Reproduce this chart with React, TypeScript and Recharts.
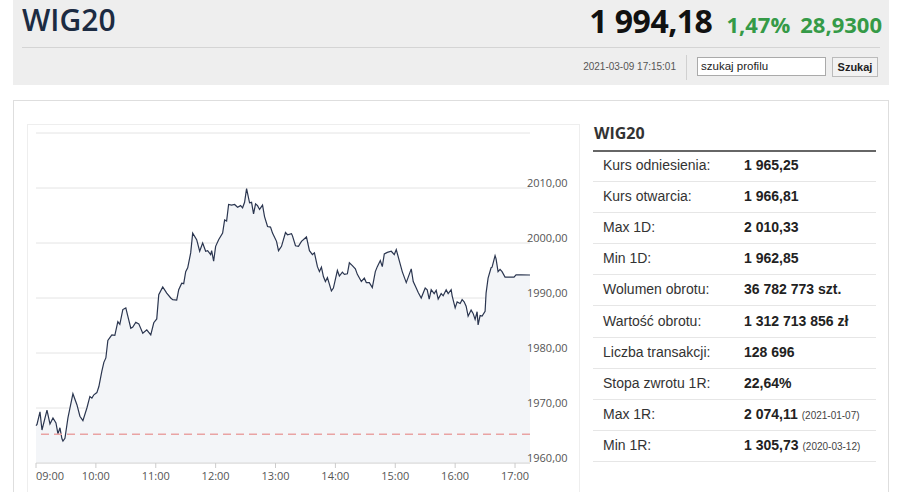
import React from "react";
import { Area, CartesianGrid, ComposedChart, ReferenceLine, XAxis, YAxis } from "recharts";

// minutes after 09:00 and index value at that moment
const MINUTES = [
  0, 1, 4, 6, 11, 14, 17, 20, 22, 24, 26, 27, 29, 32, 37, 41, 44, 47, 51, 54, 56, 58, 61, 63, 66, 68, 70, 72, 74, 76, 79,
  82, 84, 87, 90, 92, 95, 97, 100, 103, 107, 111, 115, 118, 121, 123, 127, 131, 135, 137, 141, 143, 146, 148, 150, 152,
  155, 157, 161, 164, 167, 170, 172, 175, 176, 178, 180, 183, 187, 189, 191, 193, 196, 199, 202, 205, 207, 209, 211, 214,
  216, 218, 220, 222, 224, 227, 229, 232, 235, 237, 241, 243, 246, 250, 252, 256, 257, 260, 263, 266, 271, 274, 277, 279,
  282, 284, 286, 288, 290, 292, 296, 298, 301, 302, 304, 307, 309, 312, 314, 317, 320, 322, 326, 329, 331, 334, 337, 340,
  342, 345, 347, 349, 352, 356, 359, 361, 364, 367, 371, 373, 376, 378, 381, 383, 386, 388, 390, 392, 394, 396, 399, 401,
  403, 406, 408, 411, 413, 416, 417, 420, 422, 425, 427, 429, 431, 433, 436, 438, 440, 442, 443, 445, 447, 450, 451, 453,
  456, 457, 460, 461, 463, 465, 467, 470, 474, 479, 481, 486, 495,
];
const VALUES = [
  1966.8, 1967.0, 1969.3, 1966.0, 1969.6, 1967.1, 1968.2, 1967.3, 1965.3, 1966.4, 1964.4, 1964.0, 1964.5, 1968.2, 1972.6,
  1970.6, 1968.5, 1967.7, 1970.0, 1972.1, 1971.8, 1972.4, 1972.8, 1973.9, 1976.7, 1978.3, 1979.1, 1982.3, 1982.8, 1983.3,
  1983.2, 1985.7, 1985.2, 1987.9, 1988.2, 1986.7, 1984.5, 1984.7, 1985.6, 1985.3, 1983.6, 1984.2, 1983.3, 1985.5, 1986.2,
  1990.6, 1992.0, 1990.9, 1990.0, 1989.7, 1989.6, 1991.5, 1992.7, 1992.6, 1994.8, 1995.5, 1998.2, 2001.8, 2000.6, 1998.5,
  2000.0, 1998.5, 1998.6, 1997.9, 1998.6, 1996.7, 1999.4, 2000.6, 2001.8, 2004.2, 2004.0, 2007.0, 2006.9, 2007.0, 2006.5,
  2006.8, 2006.4, 2007.4, 2009.9, 2007.3, 2007.4, 2005.3, 2007.1, 2006.8, 2006.1, 2006.9, 2004.8, 2003.0, 2002.9, 2001.8,
  2000.3, 1998.6, 1999.4, 2001.9, 2001.5, 2001.7, 2001.3, 1999.5, 1999.4, 2000.3, 2001.1, 1998.6, 1997.9, 1998.2, 1995.7,
  1994.8, 1995.6, 1993.9, 1993.0, 1993.7, 1991.3, 1991.8, 1994.2, 1995.0, 1994.0, 1994.7, 1994.3, 1994.4, 1996.4, 1995.9,
  1995.3, 1994.3, 1993.0, 1993.6, 1992.8, 1992.8, 1991.9, 1994.8, 1995.7, 1996.8, 1995.7, 1998.0, 1998.3, 1998.5, 1997.9,
  1998.8, 1996.8, 1994.8, 1992.8, 1993.8, 1995.3, 1993.0, 1991.8, 1991.0, 1990.0, 1990.9, 1991.8, 1991.5, 1989.8, 1991.5,
  1990.8, 1991.4, 1989.8, 1990.8, 1990.4, 1991.5, 1990.8, 1991.5, 1990.4, 1988.2, 1989.3, 1989.0, 1989.7, 1989.3, 1988.5,
  1986.7, 1987.8, 1987.2, 1986.1, 1987.5, 1985.1, 1986.8, 1986.7, 1987.6, 1990.9, 1993.6, 1995.5, 1995.6, 1997.7, 1997.1,
  1994.8, 1995.2, 1994.8, 1993.8, 1993.8, 1993.8, 1994.2, 1994.2, 1994.18,
];

const TIME_TICKS = [0, 60, 120, 180, 240, 300, 360, 420, 480];
const PRICE_TICKS = [1960, 1970, 1980, 1990, 2000, 2010, 2020];
const REFERENCE_PRICE = 1965.25;

const STAT_LABELS = [
  "Kurs odniesienia:",
  "Kurs otwarcia:",
  "Max 1D:",
  "Min 1D:",
  "Wolumen obrotu:",
  "Wartość obrotu:",
  "Liczba transakcji:",
  "Stopa zwrotu 1R:",
  "Max 1R:",
  "Min 1R:",
];
const STAT_VALUES = [
  "1 965,25",
  "1 966,81",
  "2 010,33",
  "1 962,85",
  "36 782 773 szt.",
  "1 312 713 856 zł",
  "128 696",
  "22,64%",
  "2 074,11",
  "1 305,73",
];
const STAT_DATES = ["", "", "", "", "", "", "", "", "(2021-01-07)", "(2020-03-12)"];

const data = MINUTES.map((t, i) => ({ t, v: VALUES[i] }));

const SANS = "'Open Sans', 'DejaVu Sans', sans-serif";
const ARIAL = "'Liberation Sans', Arial, sans-serif";

function TimeTick(props: any) {
  const { x, y, payload } = props;
  const m = payload.value as number;
  const label = `${String(9 + Math.floor(m / 60)).padStart(2, "0")}:${String(m % 60).padStart(2, "0")}`;
  return (
    <text x={x} y={y} dy={9} textAnchor={m === 0 ? "start" : "middle"} fill="#555" fontSize={11} fontFamily={SANS}>
      {label}
    </text>
  );
}

function PriceTick(props: any) {
  const { x, y, payload } = props;
  if (payload.value === 2020) return <g />;
  return (
    <text x={x - 3} y={y - 1.5} textAnchor="start" fill="#555" fontSize={11} fontFamily={SANS}>
      {(payload.value as number).toFixed(2).replace(".", ",")}
    </text>
  );
}

export default function App() {
  return (
    <div style={{ position: "fixed", left: 0, top: 0, width: 909, height: 492, overflow: "hidden", background: "#fff" }}>
      {/* header */}
      <div style={{ position: "absolute", left: 13, top: 0, width: 876, height: 85, background: "#eeeeee" }} />
      <div
        style={{
          position: "absolute",
          left: 22,
          top: 0,
          fontFamily: SANS,
          fontSize: 30,
          fontWeight: 600,
          color: "#1c2b42",
          lineHeight: "40px",
        }}
      >
        WIG20
      </div>
      <div
        style={{
          position: "absolute",
          right: 909 - 882,
          top: 0,
          height: 42,
          display: "flex",
          alignItems: "baseline",
          fontFamily: SANS,
          fontWeight: 700,
          lineHeight: "42px",
          whiteSpace: "nowrap",
        }}
      >
        <span style={{ fontSize: 32, color: "#111", letterSpacing: -0.5 }}>1&nbsp;994,18</span>
        <span style={{ fontSize: 22, color: "#359a47", marginLeft: 14 }}>1,47%</span>
        <span style={{ fontSize: 22, color: "#359a47", marginLeft: 10 }}>28,9300</span>
      </div>
      <div style={{ position: "absolute", left: 22, top: 47, width: 858, height: 1, background: "#d4d4d4" }} />
      <div style={{ position: "absolute", right: 909 - 676, top: 61, fontFamily: ARIAL, fontSize: 10, color: "#555" }}>
        2021-03-09 17:15:01
      </div>
      <div style={{ position: "absolute", left: 686, top: 55, width: 1, height: 25, background: "#d0d0d0" }} />
      <div
        style={{
          position: "absolute",
          left: 697,
          top: 57,
          width: 129,
          height: 19,
          border: "1px solid #aaa",
          background: "#fff",
          fontFamily: ARIAL,
          fontSize: 11.5,
          lineHeight: "17px",
          paddingLeft: 3,
          boxSizing: "border-box",
          color: "#222",
        }}
      >
        szukaj profilu
      </div>
      <div
        style={{
          position: "absolute",
          left: 832,
          top: 57,
          width: 46,
          height: 20,
          border: "1px solid #bbb",
          background: "#f2f2f2",
          boxSizing: "border-box",
          fontFamily: ARIAL,
          fontSize: 11,
          fontWeight: 700,
          lineHeight: "18px",
          textAlign: "center",
          color: "#222",
        }}
      >
        Szukaj
      </div>

      {/* main panel */}
      <div
        style={{
          position: "absolute",
          left: 13,
          top: 100,
          width: 876,
          height: 420,
          border: "1px solid #dedede",
          boxSizing: "border-box",
          background: "#fff",
        }}
      />
      <div
        style={{
          position: "absolute",
          left: 27,
          top: 124,
          width: 553,
          height: 400,
          border: "1px solid #eeeeee",
          boxSizing: "border-box",
        }}
      />

      <div style={{ position: "absolute", left: 27, top: 124 }}>
        <ComposedChart width={553} height={368} data={data} margin={{ top: 9, right: 10, bottom: 9, left: 9 }}>
          <CartesianGrid vertical={false} stroke="#e4e4e4" />
          <XAxis
            dataKey="t"
            type="number"
            domain={[0, 495]}
            ticks={TIME_TICKS}
            height={20}
            axisLine={{ stroke: "#d8d8d8" }}
            tickLine={{ stroke: "#cccccc" }}
            tickSize={5}
            tickMargin={3}
            tick={<TimeTick />}
          />
          <YAxis
            orientation="right"
            type="number"
            domain={[1960, 2020]}
            ticks={PRICE_TICKS}
            width={40}
            axisLine={false}
            tickLine={false}
            tickSize={0}
            tickMargin={0}
            tick={<PriceTick />}
          />
          <Area
            type="linear"
            dataKey="v"
            stroke="#2b3650"
            strokeWidth={1.2}
            fill="#f3f5f8"
            fillOpacity={1}
            dot={false}
            activeDot={false}
            isAnimationActive={false}
          />
          <ReferenceLine y={REFERENCE_PRICE} stroke="#e9a3a3" strokeWidth={1.5} strokeDasharray="8 5" />
        </ComposedChart>
      </div>

      {/* stats table */}
      <div style={{ position: "absolute", left: 594, top: 122, fontFamily: SANS, fontWeight: 700, fontSize: 16, color: "#333" }}>
        WIG20
      </div>
      <div style={{ position: "absolute", left: 593, top: 150, width: 283, height: 1.5, background: "#666" }} />
      {STAT_LABELS.map((label, i) => (
        <div
          key={label}
          style={{
            position: "absolute",
            left: 593,
            top: 151 + i * 31.1,
            width: 283,
            height: 31.1,
            borderBottom: "1px solid #e6e6e6",
            boxSizing: "border-box",
            fontFamily: ARIAL,
            fontSize: 14,
            lineHeight: "29px",
            whiteSpace: "nowrap",
          }}
        >
          <span style={{ position: "absolute", left: 10, color: "#333" }}>{label}</span>
          <span style={{ position: "absolute", left: 151, color: "#222", fontWeight: 700 }}>
            {STAT_VALUES[i]}
            {STAT_DATES[i] && (
              <span style={{ fontWeight: 400, fontSize: 10, color: "#444", marginLeft: 4 }}>{STAT_DATES[i]}</span>
            )}
          </span>
        </div>
      ))}
    </div>
  );
}
